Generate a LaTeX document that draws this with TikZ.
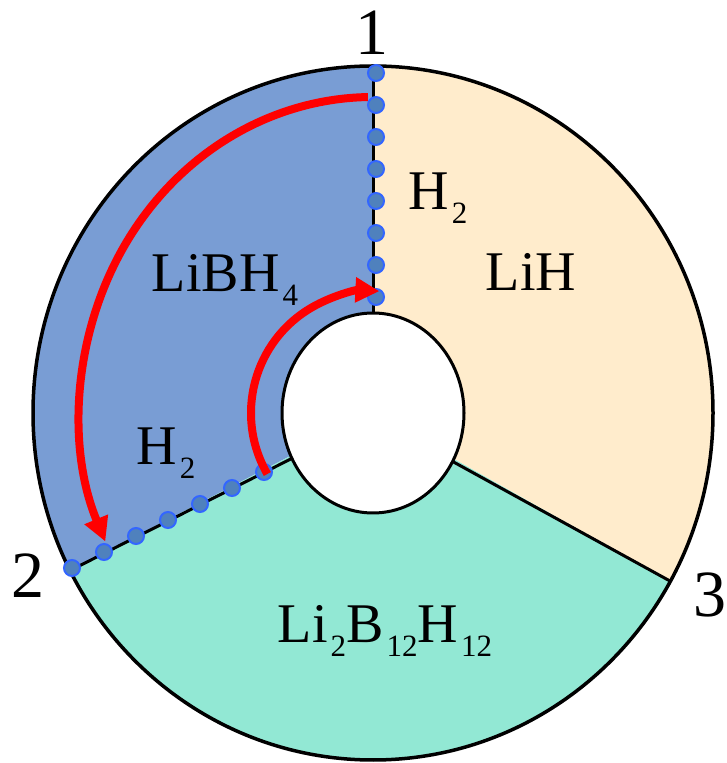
\documentclass[tikz,border=0pt]{standalone}
\usepackage{fontspec}
\setmainfont{Liberation Serif}
\usetikzlibrary{arrows.meta, calc}
\definecolor{borohydride}{RGB}{121,157,212}
\definecolor{hydride}{RGB}{255,236,204}
\definecolor{dodecaborate}{RGB}{146,232,212}
\definecolor{dotfill}{RGB}{79,129,189}
\definecolor{dotedge}{RGB}{51,102,255}
\newcommand{\chemsub}[1]{\kern3pt\raisebox{-14pt}{\fontsize{31}{31}\selectfont #1}}
\tikzset{
  chemlabel/.style={anchor=base, inner sep=0pt, font=\fontsize{56}{60}\selectfont},
  numlabel/.style={anchor=base, inner sep=0pt, font=\fontsize{66}{70}\selectfont},
  hdot/.style={circle, fill=dotfill, draw=dotedge, line width=2pt, minimum size=16pt, inner sep=0pt},
  redarrow/.style={red, line width=8pt, -{Triangle[length=24pt, width=24pt]}},
  border/.style={line width=3pt}
}

\begin{document}
\begin{tikzpicture}[x=1pt, y=1pt]
  \useasboundingbox (0,0) rectangle (727,763);
  \coordinate (C) at (373,350);

  % Sectors of the ring
  \fill[borohydride] (C) -- ($(C)+(90:340 and 347)$) arc[start angle=90, end angle=207, x radius=340, y radius=347] -- cycle;
  \fill[dodecaborate] (C) -- ($(C)+(207:340 and 347)$) arc[start angle=207, end angle=331, x radius=340, y radius=347] -- cycle;
  \fill[hydride] (C) -- ($(C)+(-29:340 and 347)$) arc[start angle=-29, end angle=90, x radius=340, y radius=347] -- cycle;

  % Borders between sectors
  \foreach \a in {90,207,331}
    \draw[border] ($(C)+(\a:91 and 100)$) -- ($(C)+(\a:340 and 347)$);
  \draw[line width=3.5pt] (C) ellipse[x radius=340, y radius=347];
  \draw[border, fill=white] (C) ellipse[x radius=91, y radius=100];

  % Hydrogen dots
  \foreach \i in {0,...,7}
    \node[hdot] (top\i) at (376,690-32*\i) {};
  \foreach \i in {0,...,6}
    \node[hdot] (low\i) at (72+32*\i,195+16*\i) {};

  % Labels
  \node[chemlabel] (borohydride) at (225,471) {LiBH\chemsub{4}};
  \node[chemlabel] (hydride) at (531,472) {LiH};
  \node[chemlabel] (dodecaborate) at (385,120) {Li\chemsub{2}B\chemsub{12}H\chemsub{12}};
  \node[chemlabel] (gasup) at (438,553) {H\chemsub{2}};
  \node[chemlabel] (gaslow) at (166,298) {H\chemsub{2}};
  \node[numlabel] (one) at (372,708) {1};
  \node[numlabel] (two) at (28,165) {2};
  \node[numlabel] (three) at (710,146) {3};

  % Reaction paths
  \draw[redarrow] ($(C)+(91:293 and 316)$) arc[start angle=91, end angle=204, x radius=293, y radius=316];
  \draw[redarrow] ($(C)+(210:122)$) arc[start angle=210, end angle=87, radius=122];
\end{tikzpicture}
\end{document}
